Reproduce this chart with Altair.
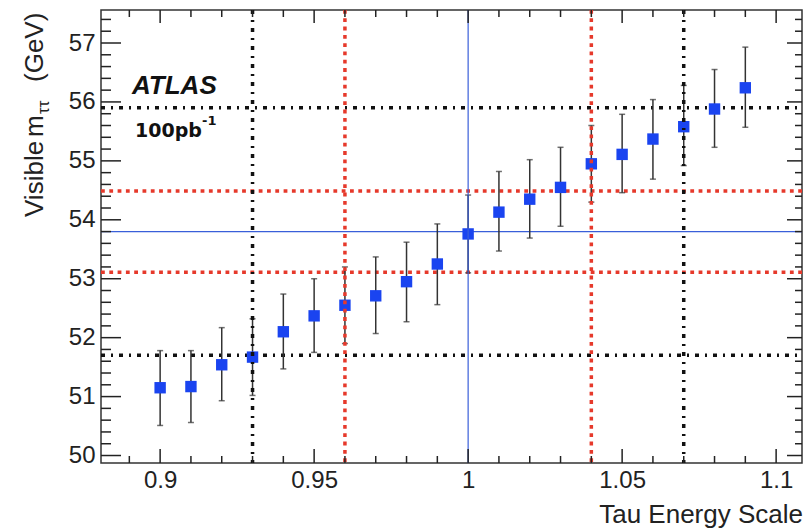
import altair as alt
import pandas as pd

# ---- data ----
tes = [0.90, 0.91, 0.92, 0.93, 0.94, 0.95, 0.96, 0.97, 0.98, 0.99,
       1.00, 1.01, 1.02, 1.03, 1.04, 1.05, 1.06, 1.07, 1.08, 1.09]
mvis = [51.15, 51.17, 51.54, 51.67, 52.10, 52.37, 52.55, 52.71, 52.95, 53.25,
        53.76, 54.13, 54.35, 54.55, 54.95, 55.11, 55.37, 55.58, 55.88, 56.24]
err_lo = [50.51, 50.56, 50.93, 51.02, 51.47, 51.75, 51.90, 52.07, 52.27, 52.56,
          53.10, 53.47, 53.69, 53.89, 54.30, 54.46, 54.69, 54.92, 55.23, 55.57]
err_hi = [51.78, 51.78, 52.17, 52.32, 52.74, 53.00, 53.20, 53.37, 53.62, 53.93,
          54.42, 54.82, 55.02, 55.23, 55.60, 55.79, 56.04, 56.28, 56.55, 56.93]

vline_x = [0.93, 0.96, 1.00, 1.04, 1.07]
vline_kind = ["black", "red", "blue", "red", "black"]
hline_y = [55.90, 54.49, 53.80, 53.11, 51.70]
hline_kind = ["black", "red", "blue", "red", "black"]

x_major_ticks = [0.90, 0.95, 1.00, 1.05, 1.10]
x_minor_ticks = [0.89, 0.91, 0.92, 0.93, 0.94, 0.96, 0.97, 0.98, 0.99,
                 1.01, 1.02, 1.03, 1.04, 1.06, 1.07, 1.08, 1.09]
y_major_ticks = [50, 51, 52, 53, 54, 55, 56, 57]
y_minor_ticks = [50.2, 50.4, 50.6, 50.8, 51.2, 51.4, 51.6, 51.8,
                 52.2, 52.4, 52.6, 52.8, 53.2, 53.4, 53.6, 53.8,
                 54.2, 54.4, 54.6, 54.8, 55.2, 55.4, 55.6, 55.8,
                 56.2, 56.4, 56.6, 56.8, 57.2, 57.4]

W, H = 701, 453
XDOM = [0.8808, 1.1084]
YDOM = [49.873, 57.56]

LABEL_FONT = "Liberation Sans"
TXT = "#222222"

xaxis = alt.Axis(values=x_major_ticks, format="~g", ticks=False, domain=False,
                 grid=False, title=None, labelFont=LABEL_FONT, labelFontSize=24,
                 labelColor=TXT, labelPadding=5, labelFlush=False, labelOverlap=False)
yaxis = alt.Axis(values=y_major_ticks, format="d", ticks=False, domain=False,
                 grid=False, title=None, labelFont=LABEL_FONT, labelFontSize=24,
                 labelColor=TXT, labelPadding=6, labelOverlap=False)
xs = alt.Scale(domain=XDOM, nice=False, zero=False)
ys = alt.Scale(domain=YDOM, nice=False, zero=False)


def X(f):
    return alt.X(f, type="quantitative", scale=xs, axis=xaxis)


def Y(f):
    return alt.Y(f, type="quantitative", scale=ys, axis=yaxis)


pts = pd.DataFrame({"tes": tes, "m": mvis, "lo": err_lo, "hi": err_hi})
vdf = pd.DataFrame({"x": vline_x, "kind": vline_kind})
hdf = pd.DataFrame({"y": hline_y, "kind": hline_kind})

styles = {
    "black": dict(color="#111111", strokeWidth=3.5, strokeDash=[4, 6, 2, 6]),
    "red": dict(color="#e6392b", strokeWidth=3.5, strokeDash=[3.8, 4.5]),
    "blue": dict(color="#3a5fd9", strokeWidth=1.2),
}

layers = []

# horizontal lines
for k in ["blue", "red", "black"]:
    layers.append(
        alt.Chart(hdf[hdf.kind == k]).mark_rule(**styles[k]).encode(
            y=Y("y"), x=alt.value(0), x2=alt.value(W))
    )

# error bars
layers.append(
    alt.Chart(pts).mark_rule(color="#333333", strokeWidth=1.5).encode(
        x=X("tes"), y=Y("lo"), y2="hi")
)
layers.append(
    alt.Chart(pts).mark_tick(color="#333333", orient="horizontal", size=6, thickness=1.5).encode(
        x=X("tes"), y=Y("lo"))
)
layers.append(
    alt.Chart(pts).mark_tick(color="#333333", orient="horizontal", size=6, thickness=1.5).encode(
        x=X("tes"), y=Y("hi"))
)
# points
layers.append(
    alt.Chart(pts).mark_square(size=130, color="#1a44f0", opacity=1).encode(
        x=X("tes"), y=Y("m"))
)

# vertical lines
for k in ["blue", "red", "black"]:
    layers.append(
        alt.Chart(vdf[vdf.kind == k]).mark_rule(**styles[k]).encode(
            x=X("x"), y=alt.value(0), y2=alt.value(H))
    )

# axis ticks (inward)
TK = dict(color="#222222", strokeWidth=1.5)
xmaj = pd.DataFrame({"v": x_major_ticks})
xmin = pd.DataFrame({"v": x_minor_ticks})
ymaj = pd.DataFrame({"v": y_major_ticks})
ymin = pd.DataFrame({"v": y_minor_ticks})
layers += [
    alt.Chart(xmaj).mark_rule(**TK).encode(x=X("v"), y=alt.value(H), y2=alt.value(H - 14)),
    alt.Chart(xmin).mark_rule(**TK).encode(x=X("v"), y=alt.value(H), y2=alt.value(H - 7)),
    alt.Chart(xmaj).mark_rule(**TK).encode(x=X("v"), y=alt.value(0), y2=alt.value(13)),
    alt.Chart(xmin).mark_rule(**TK).encode(x=X("v"), y=alt.value(0), y2=alt.value(7)),
    alt.Chart(ymaj).mark_rule(**TK).encode(y=Y("v"), x=alt.value(0), x2=alt.value(20)),
    alt.Chart(ymin).mark_rule(**TK).encode(y=Y("v"), x=alt.value(0), x2=alt.value(10)),
    alt.Chart(ymaj).mark_rule(**TK).encode(y=Y("v"), x=alt.value(W), x2=alt.value(W - 15)),
    alt.Chart(ymin).mark_rule(**TK).encode(y=Y("v"), x=alt.value(W), x2=alt.value(W - 7)),
]

one = pd.DataFrame({"a": [0]})


def txt(s, x, y, size, font=LABEL_FONT, weight="normal", style="normal",
        align="left", angle=0, baseline="alphabetic", color=TXT):
    kw = dict(text=s, font=font, fontSize=size, fontWeight=weight, fontStyle=style,
              align=align, baseline=baseline, color=color)
    if angle:
        kw["angle"] = angle
    return alt.Chart(one).mark_text(**kw).encode(x=alt.value(x), y=alt.value(y))


layers += [
    txt("ATLAS", 31, 84, 26, weight="bold", style="italic", color="#111111"),
    txt("100pb", 34, 127, 19, font="DejaVu Sans", weight="bold", color="#111111"),
    txt("-1", 101, 115, 13, font="DejaVu Sans", weight="bold", color="#111111"),
    txt("Tau Energy Scale", W + 1, 513, 26, align="right"),
    txt("Visible", -58, 207, 26, angle=270),
    txt("m", -58, 127, 26, angle=270),
    txt("\u03c4\u03c4", -52, 104, 17, angle=270),
    txt("(GeV)", -58, 72, 26, angle=270),
]

chart = alt.layer(*layers).properties(
    width=W, height=H,
    autosize=alt.AutoSizeParams(type="none"),
    padding={"left": 101, "top": 10, "right": 2, "bottom": 65},
    background="white",
).configure_view(stroke="#333333", strokeWidth=1.5)

chart.save("out.html", embed_options={"renderer": "svg", "actions": False})
